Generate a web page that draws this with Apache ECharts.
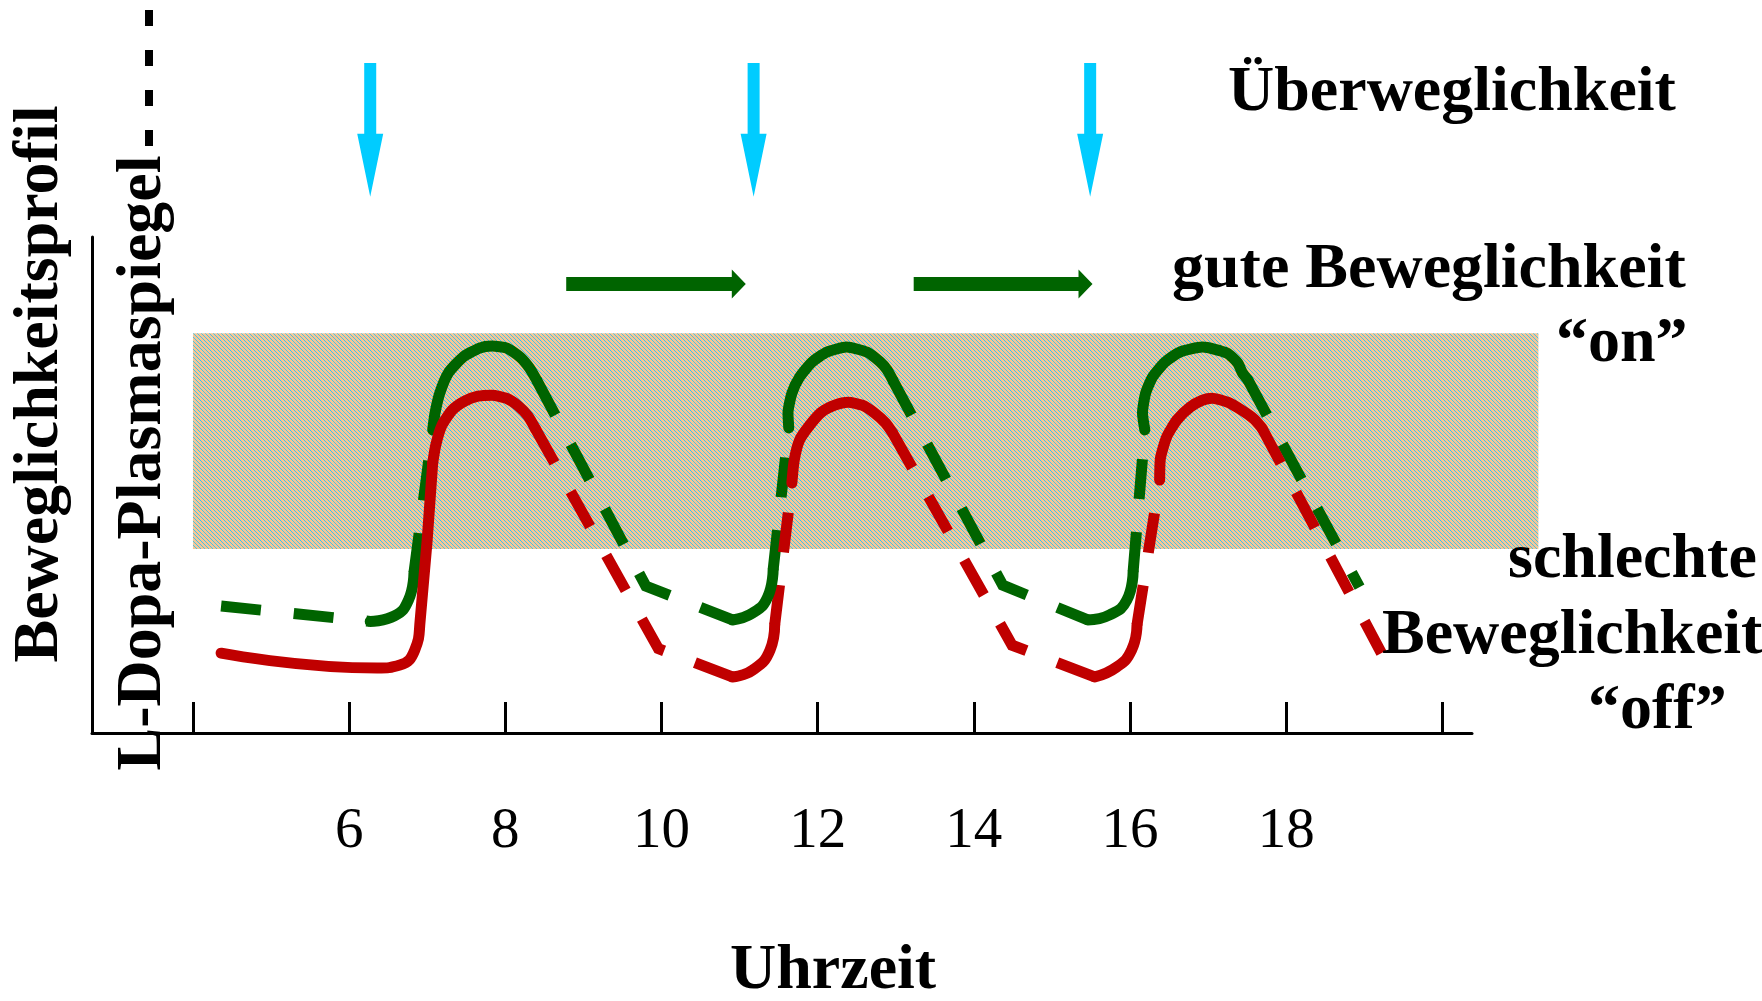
<!DOCTYPE html>
<html>
<head>
<meta charset="utf-8">
<title>Beweglichkeitsprofil / L-Dopa-Plasmaspiegel</title>
<script src="https://cdn.jsdelivr.net/npm/echarts@6/dist/echarts.min.js"></script>
<style>
  html, body { margin: 0; padding: 0; background: #fff; }
  #main { width: 1762px; height: 1001px; }
</style>
</head>
<body>
<div id="main"></div>
<script>
// Uhrzeit-Achse
var tickHours = [4, 6, 8, 10, 12, 14, 16, 18, 20];
var labelHours = [6, 8, 10, 12, 14, 16, 18];

// Bereich "gute Beweglichkeit" [von, bis, unten, oben]
var onBand = [[4, 21.23, 37.1, 80.6]];

// Einnahmezeitpunkte (Pfeile von oben) [x1, y1, x2, y2]
var doseArrows = [
    [6.27, 135.1, 6.27, 108.1],
    [11.18, 135.1, 11.18, 108.1],
    [15.49, 135.1, 15.49, 108.1]
];
// Dauer guter Beweglichkeit
var goodArrows = [
    [8.78, 90.5, 11.08, 90.5],
    [13.23, 90.5, 15.52, 90.5]
];

// Beweglichkeitsprofil (gruen): Boegen am Minimum und Gipfel (durchgezogen)
var greenBends = [
    [[6.27, 22.5], [6.58, 23.6], [6.76, 26.8], [6.83, 32.3]],
    [[10.91, 22.8], [11.17, 24.2], [11.36, 27.4], [11.43, 32.9]],
    [[15.46, 22.8], [15.74, 23.8], [15.96, 26.8], [16.04, 32.5]]
];
var greenPeaks = [
    [[7.07, 61.1], [7.10, 64.5], [7.16, 68.5], [7.27, 72.6], [7.46, 75.8], [7.67, 77.6], [7.83, 78.0], [8.02, 77.6], [8.19, 75.8], [8.31, 73.6], [8.40, 71.2]],
    [[11.63, 61.5], [11.62, 64.5], [11.67, 68.5], [11.77, 71.8], [11.93, 74.8], [12.12, 76.8], [12.37, 77.8], [12.63, 76.8], [12.80, 74.8], [12.89, 73.2], [12.96, 71.2]],
    [[16.19, 61.1], [16.16, 64.5], [16.20, 68.5], [16.29, 71.8], [16.45, 74.8], [16.64, 76.8], [16.93, 77.8], [17.24, 76.6], [17.38, 74.6], [17.44, 72.6], [17.51, 71.2]]
];
// Beweglichkeitsprofil (gruen), gestrichelte Teile
var greenDashed = [
    [[4.36, 25.6], [6.27, 22.5]],
    [[6.83, 32.3], [7.07, 61.1]],
    [[8.40, 71.2], [9.80, 29.6], [10.91, 22.8]],
    [[11.43, 32.9], [11.63, 61.5]],
    [[12.96, 71.2], [14.37, 29.8], [15.46, 22.8]],
    [[16.04, 32.5], [16.19, 61.1]],
    [[17.51, 71.2], [18.94, 29.4]]
];

// L-Dopa-Plasmaspiegel (rot): Anstiege und Gipfel (durchgezogen)
var redBends = [
    [[4.36, 16.1], [6.36, 13.1], [6.65, 13.7], [6.84, 16.7], [6.91, 22.8], [7.07, 54.4]],
    [[10.91, 11.3], [11.17, 12.7], [11.39, 16.7], [11.45, 21.8]],
    [[15.55, 11.3], [15.83, 13.3], [16.02, 16.7], [16.09, 21.8]]
];
var redPeaks = [
    [[7.07, 54.4], [7.11, 58.1], [7.19, 62.1], [7.32, 65.1], [7.48, 66.9], [7.65, 67.9], [7.83, 68.1], [8.01, 67.5], [8.17, 65.9], [8.29, 63.9], [8.38, 61.5]],
    [[11.67, 50.4], [11.70, 55.0], [11.77, 59.1], [11.90, 62.1], [12.05, 64.7], [12.22, 66.1], [12.39, 66.7], [12.57, 66.1], [12.73, 64.5], [12.87, 62.5], [12.96, 60.5]],
    [[16.38, 51.0], [16.39, 55.4], [16.47, 59.7], [16.60, 63.1], [16.77, 65.7], [16.93, 67.1], [17.05, 67.5], [17.25, 66.7], [17.43, 65.1], [17.59, 63.3], [17.69, 61.5]]
];
// L-Dopa-Plasmaspiegel (rot), gestrichelte Teile
var redDashed = [
    [[8.38, 61.5], [9.96, 17.0], [10.91, 11.3]],
    [[11.45, 21.8], [11.67, 50.4]],
    [[12.96, 60.5], [14.49, 17.7], [15.55, 11.3]],
    [[16.09, 21.8], [16.38, 51.0]],
    [[17.69, 61.5], [19.22, 16.1]]
];

var GREEN = '#006400';
var RED = '#c00000';
var CYAN = '#00ccff';
var SERIF = '"Liberation Serif", "Times New Roman", serif';

// Schraffur fuer den "on"-Bereich (pixelgenau, diagonal)
function hatch() {
    var n = 4;
    var c = document.createElement('canvas');
    c.width = n;
    c.height = n;
    var ctx = c.getContext('2d');
    var img = ctx.createImageData(n, n);
    for (var y = 0; y < n; y++) {
        for (var x = 0; x < n; x++) {
            var i = (y * n + x) * 4;
            var onLine = ((x - y) % n + n) % n === 0;
            img.data[i] = onLine ? 64 : 246;
            img.data[i + 1] = onLine ? 196 : 198;
            img.data[i + 2] = onLine ? 234 : 150;
            img.data[i + 3] = 255;
        }
    }
    ctx.putImageData(img, 0, 0);
    return c;
}
var hatchPattern = { image: hatch(), repeat: 'repeat' };

function piece(data, color, kind) {
    var dashed = kind === 'dash';
    return {
        type: 'line',
        data: data,
        symbol: 'none',
        silent: true,
        smooth: kind === 'bend' ? 0.5 : (kind === 'peak' ? 0.2 : false),
        z: 3,
        lineStyle: {
            color: color,
            width: 11,
            type: dashed ? [40, 33] : 'solid',
            cap: dashed ? 'butt' : 'round',
            join: dashed ? 'miter' : 'round'
        }
    };
}

function arrowSeries(data, color, shaft, headW, headL) {
    return {
        type: 'custom',
        data: data,
        clip: false,
        silent: true,
        z: 4,
        renderItem: function (params, api) {
            var a = api.coord([api.value(0), api.value(1)]);
            var b = api.coord([api.value(2), api.value(3)]);
            var dx = b[0] - a[0], dy = b[1] - a[1];
            var len = Math.sqrt(dx * dx + dy * dy);
            var ux = dx / len, uy = dy / len;
            var nx = -uy, ny = ux;
            var bx = b[0] - ux * headL, by = b[1] - uy * headL;
            var s = shaft / 2, w = headW / 2;
            return {
                type: 'polygon',
                shape: {
                    points: [
                        [a[0] + nx * s, a[1] + ny * s],
                        [bx + nx * s, by + ny * s],
                        [bx + nx * w, by + ny * w],
                        [b[0], b[1]],
                        [bx - nx * w, by - ny * w],
                        [bx - nx * s, by - ny * s],
                        [a[0] - nx * s, a[1] - ny * s]
                    ]
                },
                style: { fill: color }
            };
        }
    };
}

var series = [];
series.push({
    type: 'custom',
    data: onBand,
    clip: false,
    silent: true,
    z: 1,
    renderItem: function (params, api) {
        var p0 = api.coord([api.value(0), api.value(3)]);
        var p1 = api.coord([api.value(1), api.value(2)]);
        return {
            type: 'rect',
            shape: { x: p0[0], y: p0[1], width: p1[0] - p0[0], height: p1[1] - p0[1] },
            style: { fill: hatchPattern }
        };
    }
});
greenDashed.forEach(function (d) { series.push(piece(d, GREEN, 'dash')); });
redDashed.forEach(function (d) { series.push(piece(d, RED, 'dash')); });
greenBends.forEach(function (d) { series.push(piece(d, GREEN, 'bend')); });
greenPeaks.forEach(function (d) { series.push(piece(d, GREEN, 'peak')); });
redBends.forEach(function (d) { series.push(piece(d, RED, 'bend')); });
redPeaks.forEach(function (d) { series.push(piece(d, RED, 'peak')); });
series.push(arrowSeries(doseArrows, CYAN, 12, 26, 63));
series.push(arrowSeries(goodArrows, GREEN, 14, 29, 14));

function label(text, x, y, rotated) {
    return {
        type: 'text',
        x: x,
        y: y,
        rotation: rotated ? Math.PI / 2 : 0,
        silent: true,
        z: 10,
        style: {
            text: text,
            fill: '#000',
            fontFamily: SERIF,
            fontWeight: 'bold',
            fontSize: 64,
            textAlign: rotated ? 'center' : 'left',
            textVerticalAlign: 'middle'
        }
    };
}

var chart = echarts.init(document.getElementById('main'));
chart.setOption({
    animation: false,
    backgroundColor: '#fff',
    grid: { left: 92, right: 290, top: 237, bottom: 268 },
    xAxis: {
        type: 'value',
        min: 2.707,
        max: 20.38,
        splitLine: { show: false },
        axisLine: { show: true, lineStyle: { color: '#000', width: 3 } },
        axisTick: {
            show: true,
            inside: true,
            length: 31,
            customValues: tickHours,
            lineStyle: { color: '#000', width: 3 }
        },
        axisLabel: {
            customValues: labelHours,
            margin: 71,
            color: '#000',
            fontFamily: SERIF,
            fontSize: 57
        }
    },
    yAxis: {
        type: 'value',
        min: 0,
        max: 100,
        splitLine: { show: false },
        axisTick: { show: false },
        axisLabel: { show: false },
        axisLine: { show: true, lineStyle: { color: '#000', width: 3 } }
    },
    series: series,
    graphic: [
        label('Beweglichkeitsprofil', 40, 384, true),
        label('L-Dopa-Plasmaspiegel', 143, 463, true),
        {
            type: 'line',
            silent: true,
            shape: { x1: 149, y1: 10, x2: 149, y2: 146 },
            style: { stroke: '#000', lineWidth: 8, lineDash: [16, 24] }
        },
        label('Überweglichkeit', 1228, 93),
        label('gute Beweglichkeit', 1172, 270),
        label('\u201Con\u201D', 1556, 344),
        label('schlechte', 1508, 560),
        label('Beweglichkeit', 1382, 636),
        label('\u201Coff\u201D', 1588, 711),
        label('Uhrzeit', 730, 971)
    ]
});
</script>
</body>
</html>
